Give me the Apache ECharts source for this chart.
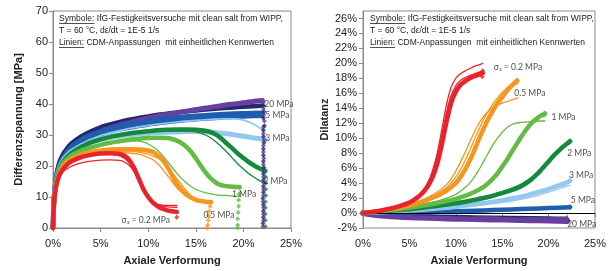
<!DOCTYPE html>
<html><head><meta charset="utf-8">
<script src="https://cdn.jsdelivr.net/npm/echarts@6/dist/echarts.min.js"></script>
<style>html,body{margin:0;padding:0;background:#fff}#c{width:609px;height:271px}</style>
</head><body><div id="c"></div>
<script>
// ---------- tick labels ----------
const leftYTicks = [0,10,20,30,40,50,60,70];
const rightYTicks = [-2,0,2,4,6,8,10,12,14,16,18,20,22,24,26];
const xTicks = [0,5,10,15,20,25];

// ---------- left panel: Differenzspannung [MPa] vs axiale Verformung [%] ----------
const s02Sym = [[0,0],[0.1,8],[0.3,13],[0.6,16.5],[1,18.8],[1.5,20.5],[2,21.6],[3,22.9],[4,23.6],[5,24],[6,24.1],[7,23.9],[7.5,23.3],[8,22],[8.5,19.5],[9,16],[9.5,12.5],[10,10],[10.5,8.2],[11,7],[11.5,6.2],[12,5.7],[12.5,5.4],[13,5.2]];
const s02FitA = [[0,0],[0.2,11],[0.5,15.5],[1,18],[2,20],[3,21],[4,21.6],[5,21.9],[6,22],[7,21.8],[7.5,21.3],[8,20.2],[8.5,18.3],[9,15.5],[9.5,12.5],[10,10],[10.5,8.5],[11,7.7],[11.5,7.4],[12,7.3],[13,7.3]];
const s02FitB = [[0,0],[0.2,11],[0.5,16],[1,19],[2,21.8],[3,23],[4,23.6],[5,23.9],[6,23.8],[7,23.3],[7.5,22.5],[8,21],[8.5,18.5],[9,15.5],[9.5,12.2],[10,9.8],[10.5,8.2],[11,7.3],[12,6.8],[13,6.7]];
const s02End = [[13,5.2],[13,3.5]];

const s05Sym = [[0,0],[0.1,8],[0.3,13],[0.6,17],[1,19.5],[1.5,21.3],[2,22.4],[3,23.7],[4,24.5],[5,25],[6,25.3],[7,25.4],[8,25.4],[9,25.3],[10,25],[10.5,24.5],[11,23.5],[11.5,22],[12,19.8],[12.5,17],[13,14.3],[13.5,12.3],[14,10.8],[14.5,9.8],[15,9.1],[15.5,8.7],[16,8.5],[16.6,8.4]];
const s05Drop = [[16.6,8.2],[16.5,7],[16.4,5.5],[16.35,4],[16.3,2.5],[16.25,1],[16.2,0]];
const s05FitA = [[0,0],[0.2,11],[0.5,16],[1,19],[2,21.8],[3,23],[4,23.6],[5,24],[6,24.2],[7,24.3],[8,24.2],[9,23.8],[10,22.8],[10.5,22],[11,20.7],[11.5,19],[12,17],[12.5,15],[13,13],[13.5,11.5],[14,10.3],[14.5,9.5],[15,9],[16,8.5],[16.6,8.4]];
const s05FitB = [[0,0],[0.2,11],[0.5,16.3],[1,19.5],[2,22.3],[3,23.6],[4,24.3],[5,24.6],[6,24.8],[8,24.8],[9,24.5],[10,23.8],[11,22.5],[11.5,21.5],[12,20],[12.5,18],[13,16],[13.5,14],[14,12],[14.5,10.5],[15,9.5],[15.5,8.8],[16,8.3],[16.6,8]];

const s1Sym = [[0,0],[0.1,8],[0.3,13.5],[0.6,17.5],[1,20.5],[1.5,22.3],[2,23.5],[3,25],[4,26],[5,26.8],[6,27.5],[7,28],[8,28.5],[9,28.8],[10,29],[11,29.1],[12,29],[12.5,28.7],[13,28.2],[13.5,27.4],[14,26.2],[14.5,24.6],[15,22.5],[15.5,20.2],[16,18],[16.5,16.2],[17,14.9],[17.5,14],[18,13.6],[18.5,13.4],[19,13.3],[19.6,13.2]];
const s1Drop = [[19.6,13],[19.55,11],[19.5,9],[19.5,7],[19.45,5],[19.4,3],[19.4,1],[19.4,0]];
const s1Fit = [[0,0],[0.2,11],[0.5,16.5],[1,20],[2,23.3],[3,25],[4,26.2],[5,27],[6,27.6],[7,28],[8,28.1],[9,28],[9.5,27.7],[10,27.1],[10.5,26.2],[11,25],[11.5,23.4],[12,21.6],[12.5,19.6],[13,17.7],[13.5,16],[14,14.6],[14.5,13.4],[15,12.5],[16,11.4],[17,10.8],[18,10.5],[19,10.3],[19.7,10.2]];

const s2Sym = [[0,0],[0.1,8],[0.3,14],[0.6,18],[1,21],[1.5,23],[2,24.3],[3,26.2],[4,27.6],[5,28.6],[6,29.4],[7,30],[8,30.5],[9,30.9],[10,31.2],[11,31.5],[12,31.7],[13,31.8],[14,31.8],[15,31.7],[16,31.4],[16.5,31],[17,30.3],[17.5,29.3],[18,28],[18.5,26.6],[19,25.2],[19.5,23.8],[20,22.6],[20.5,21.4],[21,20.4],[21.5,19.5],[22,18.8],[22.3,18.5]];
const s2Fit = [[0,0],[0.2,11],[0.5,17],[1,20.8],[2,24.2],[3,26.2],[5,28.7],[7,30.1],[9,30.9],[11,31.3],[13,31.4],[14,31.3],[15,31],[15.5,30.6],[16,30],[16.5,29.2],[17,28.1],[17.5,26.8],[18,25.3],[18.5,23.7],[19,22],[19.5,20.4],[20,19],[20.5,17.7],[21,16.6],[21.5,15.6],[22,14.8],[22.3,14.4]];
const s2Drop = [[22.3,18.3],[22.3,16.5],[22.35,14.5],[22.35,12.5],[22.35,10.5],[22.3,8.5],[22.3,6.5],[22.3,4.5],[22.3,2.5],[22.3,0.5]];

const s3Sym = [[0,0],[0.1,8.5],[0.3,14.5],[0.6,18.5],[1,21.5],[1.5,23.5],[2,24.8],[3,26.5],[4,27.7],[5,28.6],[6,29.2],[7,29.7],[8,30.1],[9,30.4],[10,30.6],[11,30.8],[12,30.9],[13,31],[14,31.1],[15,31.1],[16,31],[17,30.8],[18,30.5],[19,30.1],[20,29.6],[21,29.1],[22,28.6],[22.3,28.4]];
const s3Fit = [[0,0],[0.2,12],[0.5,17.5],[1,21.5],[2,25],[3,27.2],[5,29.8],[7,31.4],[9,32.6],[11,33.5],[13,34.2],[15,34.7],[17,35.1],[18,35.2],[19,35.2],[19.5,35.1],[20,34.8],[20.5,34.3],[21,33.6],[21.5,32.7],[22,31.8],[22.2,31.5]];

const s5SymA = [[0,0],[0.1,9],[0.3,15],[0.6,19],[1,22],[1.5,24.2],[2,25.7],[3,27.7],[4,29.1],[5,30.2],[6,31.1],[7,31.8],[8,32.4],[9,32.9],[10,33.4],[11,33.8],[12,34.2],[13,34.5],[14,34.8],[15,35.1],[16,35.3],[17,35.5],[18,35.7],[19,35.9],[20,36],[21,36.1],[22,36.2]];
const s5SymB = [[0,0],[0.1,9],[0.3,15],[0.6,19.5],[1,22.5],[2,26.5],[3,28.6],[4,30.1],[5,31.2],[7,32.9],[9,34.1],[11,35],[13,35.7],[15,36.2],[17,36.6],[19,36.9],[21,37.1],[22,37.2]];
const s20Navy = [[0,0],[0.1,10],[0.3,16],[0.6,20.5],[1,23.5],[1.5,25.8],[2,27.4],[3,29.6],[4,31.2],[5,32.5],[6,33.4],[7,34.2],[8,34.9],[9,35.5],[10,36],[11,36.5],[12,36.9],[13,37.3],[14,37.6],[15,37.9],[16,38.2],[17,38.5],[18,38.7],[19,38.9],[20,39.1],[21,39.3],[22,39.5]];
const s20Sym = [[0,0],[0.1,9],[0.3,15],[0.6,19.5],[1,22.3],[1.5,24.5],[2,26],[3,28.2],[4,29.8],[5,31.2],[6,32.3],[7,33.2],[8,34],[9,34.8],[10,35.5],[11,36.1],[12,36.7],[13,37.2],[14,37.7],[15,38.2],[16,38.7],[17,39.1],[18,39.6],[19,40],[20,40.4],[21,40.8],[22,41.1]];
const s20DropA = [[22.1,40.5],[22.1,38.5],[22.15,36.5],[22.2,34.5],[22.1,32.5],[22.1,30.5],[22.15,28.5],[22.1,26.5],[22.1,24.5],[22.15,22.5],[22.1,20.5],[22.1,18.5],[22.1,16.5],[22.15,14.5],[22.1,12.5],[22.1,10.5],[22.05,8.5],[22.1,6.5],[22.1,4.5],[22.1,2.5],[22.05,0.5]];
const s20DropB = [[22.1,39.5],[22.15,37.5],[22.1,35.5],[22.2,33],[22.1,31.5],[22.1,29.5],[22.15,27.5],[22.1,25.5],[22.1,23.5],[22.1,21.5],[22.15,19.5],[22.1,17.5],[22.1,15.5],[22.1,13.5],[22.1,11.5],[22.05,9.5],[22.1,7.5],[22.1,5.5],[22.1,3.5],[22.05,1.5]];
const originMarks = [[0,0.3],[0,1.2],[0,2.2],[0,3.3],[0,4.5]];

const leftLabelText = ['20 MPa','5 MPa','3 MPa','2 MPa','1 MPa','0.5 MPa','σ₃ = 0.2 MPa'];
const leftLabelPos = [[22.2,40],[22.3,36.3],[22.3,28.9],[22.1,15.2],[18.8,10.8],[15.8,4.2],[7.2,2.4]];

// ---------- right panel: Dilatanz [%] vs axiale Verformung [%] ----------
const d02Sym = [[0,0],[1,0.15],[2,0.35],[3,0.6],[4,0.95],[5,1.4],[5.5,1.75],[6,2.2],[6.5,2.8],[7,3.6],[7.5,4.8],[8,6.6],[8.5,9.2],[9,12.2],[9.5,14.7],[10,16.2],[10.5,17.1],[11,17.6],[11.5,18],[12,18.3],[12.5,18.5],[12.9,18.7]];
const d02FitA = [[0,0],[2,0.4],[4,1],[5,1.5],[6,2.4],[6.5,3.1],[7,4.1],[7.5,5.7],[8,8],[8.5,11.2],[9,14.5],[9.5,16.8],[10,18],[10.5,18.6],[11,19],[11.5,19.3],[12,19.6],[12.5,19.8],[12.9,20]];
const d02FitB = [[0,0],[2,0.35],[4,0.95],[5,1.45],[6,2.3],[6.5,3],[7,3.9],[7.5,5.3],[8,7.4],[8.5,10.3],[9,13.4],[9.5,15.7],[10,17],[10.5,17.7],[11,18.1],[12,18.6],[12.9,19]];
const d02End = [[12.9,18.7],[12.85,18.2],[12.9,19]];

const d05Sym = [[0,0],[2,0.3],[4,0.75],[5,1],[6,1.35],[7,1.8],[8,2.3],[9,3],[10,4],[10.5,4.8],[11,5.8],[11.5,7],[12,8.4],[12.5,9.9],[13,11.3],[13.5,12.6],[14,13.7],[14.5,14.7],[15,15.5],[15.5,16.3],[16,17],[16.6,17.7]];
const d05FitA = [[0,0],[2,0.35],[4,0.85],[5,1.15],[6,1.55],[7,2.1],[8,2.8],[9,3.8],[9.5,4.6],[10,5.6],[10.5,6.8],[11,8.1],[11.5,9.5],[12,10.8],[12.5,12],[13,12.9],[13.5,13.6],[14,14.1],[14.5,14.4],[15,14.7],[15.5,14.9],[16,15.1],[16.7,15.4]];
const d05FitB = [[0,0],[4,0.8],[6,1.45],[7,1.95],[8,2.55],[9,3.4],[10,4.8],[10.5,5.8],[11,7],[11.5,8.4],[12,9.8],[12.5,11.2],[13,12.5],[13.5,13.6],[14,14.6],[14.5,15.4],[15,16.1],[15.5,16.7],[16,17.2],[16.6,17.6]];
const d05End = [[16.6,17.7],[16.5,17.4]];

const d1Sym = [[0,0],[2,0.25],[4,0.55],[6,0.9],[8,1.35],[10,1.9],[11,2.3],[12,2.8],[13,3.5],[13.5,4],[14,4.6],[14.5,5.3],[15,6.2],[15.5,7.1],[16,8.1],[16.5,9.1],[17,10.1],[17.5,11],[18,11.8],[18.5,12.4],[19,12.9],[19.6,13.3]];
const d1Fit = [[0,0],[2,0.3],[4,0.65],[6,1.05],[8,1.6],[9,2],[10,2.5],[10.5,2.9],[11,3.4],[11.5,4],[12,4.8],[12.5,5.8],[13,6.9],[13.5,8],[14,9.1],[14.5,10],[15,10.8],[15.5,11.4],[16,11.8],[16.5,12],[17,12.1],[18,12.2],[19,12.3],[19.6,12.3]];
const d1End = [[19.6,13.3],[19.5,13.1]];

const d2Sym = [[0,0],[2,0.2],[4,0.4],[6,0.65],[8,0.95],[10,1.3],[12,1.75],[13,2],[14,2.3],[15,2.65],[16,3.05],[17,3.55],[17.5,3.9],[18,4.35],[18.5,4.9],[19,5.5],[19.5,6.2],[20,6.9],[20.5,7.6],[21,8.2],[21.5,8.8],[22,9.3],[22.3,9.6]];
const d2Fit = [[0,0],[4,0.45],[8,1.05],[12,1.9],[14,2.5],[16,3.3],[17,3.85],[18,4.6],[18.5,5.1],[19,5.7],[19.5,6.4],[20,7.1],[20.5,7.7],[21,8.3],[21.5,8.7],[22,9.1],[22.3,9.3]];
const d2End = [[22.3,9.6]];

const d3Sym = [[0,0],[2,0.1],[4,0.25],[6,0.4],[8,0.6],[10,0.85],[12,1.15],[14,1.5],[15,1.7],[16,1.95],[17,2.2],[18,2.5],[19,2.85],[20,3.2],[21,3.65],[22,4.1],[22.3,4.3]];
const d3Fit = [[0,0],[4,0.2],[8,0.5],[12,0.95],[14,1.25],[16,1.6],[18,2.1],[19,2.4],[20,2.8],[21,3.2],[22,3.6],[22.3,3.75]];
const d3End = [[22.3,4.3]];

const d5Sym = [[0,0],[2,0.03],[4,0.06],[6,0.11],[8,0.17],[10,0.24],[12,0.31],[14,0.39],[16,0.48],[18,0.57],[20,0.66],[22.3,0.78]];
const d5End = [[22.3,0.8]];
const d20Navy = [[0,0],[4,-0.15],[8,-0.28],[12,-0.38],[16,-0.46],[20,-0.53],[22,-0.56]];
const d20Sym = [[0,0],[1,-0.2],[2,-0.33],[4,-0.5],[6,-0.6],[8,-0.68],[10,-0.75],[12,-0.8],[14,-0.86],[16,-0.9],[18,-0.95],[20,-1.0],[22,-1.05]];
const d20End = [[22,-0.6]];

const rightLabelText = ['σ₃ = 0.2 MPa','0.5 MPa','1 MPa','2 MPa','3 MPa','5 MPa','20 MPa'];
const rightLabelPos = [[14.1,19.5],[16.3,16],[20.3,12.8],[22,8],[22.2,5.1],[22.4,1.7],[22,-1.5]];

// ---------- colours ----------
const C = {red:'#e8232b', orange:'#f7961e', lgreen:'#63bb45', dgreen:'#148a3c', lblue:'#92c8ee', blue:'#1f5eae', navy:'#1e2a72', purple:'#6a3e9e'};

const FONT = '"Liberation Sans", Arial, sans-serif';
const LFONT = 'Lato, "Noto Sans", sans-serif';

function ln(g, data, color, width, z) {
  return {type:'line', xAxisIndex:g, yAxisIndex:g, data:data, symbol:'none', smooth:0.25,
    lineStyle:{color:color, width:width, cap:'round', join:'round'}, z:z||2, silent:true, animation:false};
}
function mk(g, data, color, size, symbol, z) {
  return {type:'scatter', xAxisIndex:g, yAxisIndex:g, data:data, symbol:symbol||'diamond', symbolSize:size||5,
    itemStyle:{color:color}, z:z||3, silent:true, animation:false};
}
function labels(g, pos, txt) {
  return {type:'scatter', xAxisIndex:g, yAxisIndex:g, symbolSize:0, z:10, silent:true, animation:false,
    data: pos.map((p,i)=>({value:p, name:txt[i]})),
    label:{show:true, position:'right', distance:0, formatter:'{b}', color:'#222', fontFamily:LFONT, fontSize:8.5}};
}

const TW = 4.5, FW = 1.3;
const series = [
  // left
  ln(0, s20Navy, C.navy, TW, 2), ln(0, s20Sym, C.purple, TW+0.5, 2),
  ln(0, s5SymB, C.blue, TW, 2), ln(0, s5SymA, C.blue, TW, 2),
  ln(0, s3Fit, C.lblue, FW+0.4, 3), ln(0, s3Sym, C.lblue, TW+0.5, 3),
  ln(0, s2Sym, C.dgreen, TW, 3), ln(0, s2Fit, C.dgreen, FW, 3),
  ln(0, s1Sym, C.lgreen, TW, 4), ln(0, s1Fit, C.lgreen, FW, 4),
  ln(0, s05Sym, C.orange, TW, 4), ln(0, s05FitA, C.orange, FW, 4), ln(0, s05FitB, C.orange, FW, 4),
  ln(0, s02Sym, C.red, TW, 5), ln(0, s02FitA, C.red, FW, 5), ln(0, s02FitB, C.red, FW, 5),
  mk(0, s02End, C.red, 5), mk(0, s05Drop, C.orange, 5), mk(0, s1Drop, C.lgreen, 5),
  mk(0, s2Drop, C.dgreen, 5), mk(0, s20DropA, C.purple, 5), mk(0, s20DropB, C.navy, 5),
  mk(0, originMarks, C.purple, 4),
  labels(0, leftLabelPos, leftLabelText),
  // right
  ln(1, d20Sym, C.purple, TW+1.5, 2), ln(1, d20Navy, C.navy, FW, 2),
  ln(1, d5Sym, C.blue, TW, 2),
  ln(1, d3Sym, C.lblue, TW, 3), ln(1, d3Fit, C.lblue, FW, 3),
  ln(1, d2Sym, C.dgreen, TW, 3), ln(1, d2Fit, C.dgreen, FW, 3),
  ln(1, d1Sym, C.lgreen, TW, 4), ln(1, d1Fit, C.lgreen, FW, 4),
  ln(1, d05Sym, C.orange, TW, 4), ln(1, d05FitA, C.orange, FW, 4), ln(1, d05FitB, C.orange, FW, 4),
  ln(1, d02Sym, C.red, TW, 5), ln(1, d02FitA, C.red, FW, 5), ln(1, d02FitB, C.red, FW, 5),
  mk(1, d02End, C.red, 5), mk(1, d05End, C.orange, 6), mk(1, d1End, C.lgreen, 6),
  mk(1, d2End, C.dgreen, 6), mk(1, d3End, C.lblue, 6), mk(1, d5End, C.blue, 6),
  mk(1, d20End, C.purple, 6, 'triangle'),
  labels(1, rightLabelPos, rightLabelText),
  {type:'line', xAxisIndex:1, yAxisIndex:1, data:[], silent:true, z:8,
   markLine:{silent:true, symbol:'none', label:{show:false}, animation:false,
     lineStyle:{color:'#000', width:1, type:'solid'}, data:[{yAxis:0}]}}
];

const axisCommon = {
  axisLine:{show:true, lineStyle:{color:'#8a8a8a', width:1}},
  axisTick:{show:true, inside:false, length:4, lineStyle:{color:'#8a8a8a'}},
  splitLine:{show:false},
  axisLabel:{color:'#222', fontFamily:FONT, fontSize:11}
};
function xAx(g){
  return Object.assign({}, axisCommon, {type:'value', gridIndex:g, min:xTicks[0], max:xTicks[xTicks.length-1], interval:5,
    axisLabel:Object.assign({}, axisCommon.axisLabel, {formatter:v=>v+'%', margin:10}),
    name:'Axiale Verformung', nameLocation:'middle', nameGap:27,
    nameTextStyle:{fontFamily:FONT, fontSize:11, fontWeight:'bold', color:'#222'}});
}

const gridBase = {top:11, height:227, width:238, show:true, borderColor:'#8a8a8a', borderWidth:1, backgroundColor:'transparent'};
const option = {
  animation:false,
  grid:[Object.assign({left:53}, gridBase), Object.assign({left:363}, gridBase)],
  xAxis:[xAx(0), xAx(1)],
  yAxis:[
    Object.assign({}, axisCommon, {type:'value', gridIndex:0, min:leftYTicks[0], max:leftYTicks[leftYTicks.length-1], interval:10,
      axisLabel:Object.assign({}, axisCommon.axisLabel, {margin:5}),
      name:'Differenzspannung [MPa]', nameLocation:'middle', nameGap:29,
      nameTextStyle:{fontFamily:FONT, fontSize:11, fontWeight:'bold', color:'#222'}}),
    Object.assign({}, axisCommon, {type:'value', gridIndex:1, min:rightYTicks[0], max:27, interval:2,
      axisLabel:Object.assign({}, axisCommon.axisLabel, {margin:6, showMaxLabel:false,
        formatter:v=> (v>rightYTicks[rightYTicks.length-1] ? '' : v+'%')}),
      name:'Dilatanz', nameLocation:'middle', nameGap:33,
      nameTextStyle:{fontFamily:FONT, fontSize:11, fontWeight:'bold', color:'#222'}})
  ],
  series: series
};

// annotation text box
const BFONT = '8.5px ' + FONT;
const meas = document.createElement('canvas').getContext('2d');
meas.font = BFONT;
const wSym = meas.measureText('Symbole:').width;
const wLin = meas.measureText('Linien:').width;
const boxLines = ['Symbole: IfG-Festigkeitsversuche mit clean salt from WIPP,', 'T = 60 °C, dε/dt = 1E-5 1/s', 'Linien: CDM-Anpassungen  mit einheitlichen Kennwerten'];
const graphics = [];
[59, 370].forEach(x0 => {
  boxLines.forEach((t,i) => {
    graphics.push({type:'text', left:x0, top:14 + i*12, silent:true,
      style:{text:t, font:BFONT, fill:'#222'}});
  });
  graphics.push({type:'line', silent:true, shape:{x1:x0, y1:23.5, x2:x0+wSym, y2:23.5}, style:{stroke:'#222', lineWidth:0.8}});
  graphics.push({type:'line', silent:true, shape:{x1:x0, y1:47.5, x2:x0+wLin, y2:47.5}, style:{stroke:'#222', lineWidth:0.8}});
});
option.graphic = graphics;

const chart = echarts.init(document.getElementById('c'), null, {renderer:'canvas'});
chart.setOption(option);
</script></body></html>
